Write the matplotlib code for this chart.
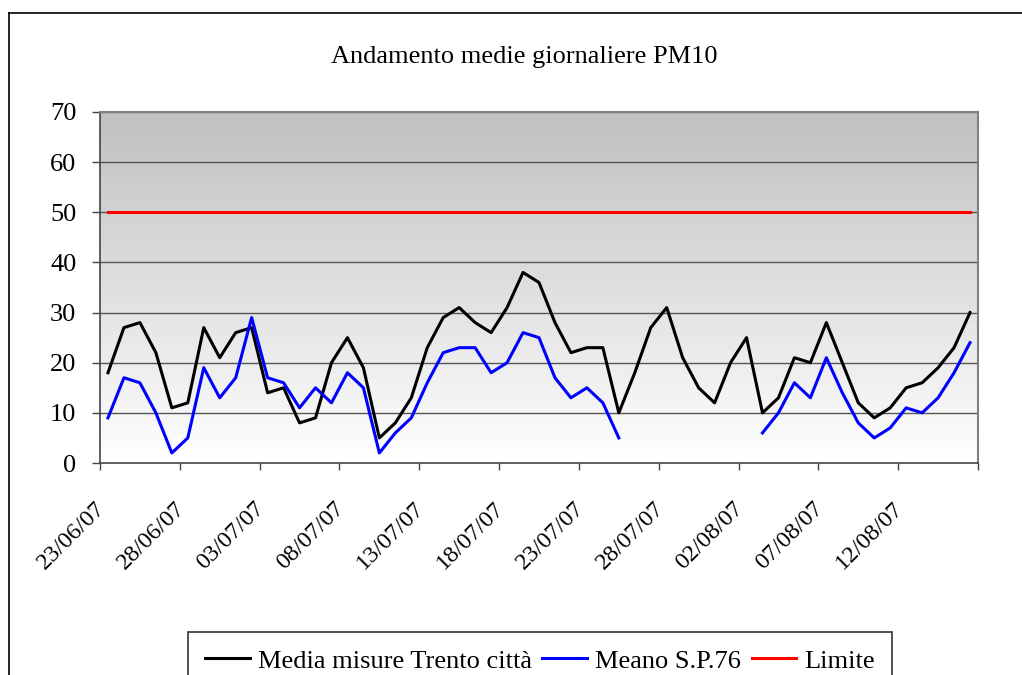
import numpy as np
import pandas as pd
import matplotlib
matplotlib.use("Agg")
import matplotlib.pyplot as plt
from matplotlib.lines import Line2D
from matplotlib.transforms import ScaledTranslation

plt.rcParams["font.family"] = ["Liberation Serif", "DejaVu Serif"]

# Data: daily PM10 means, 23/06/07 .. 16/08/07
dates = pd.date_range("2007-06-23", periods=55, freq="D")
trento = [18, 27, 28, 22, 11, 12, 27, 21, 26, 27,
          14, 15, 8, 9, 20, 25, 19, 5, 8, 13,
          23, 29, 31, 28, 26, 31, 38, 36, 28, 22,
          23, 23, 10, 18, 27, 31, 21, 15, 12, 20,
          25, 10, 13, 21, 20, 28, 20, 12, 9, 11,
          15, 16, 19, 23, 30]
meano = [9, 17, 16, 10, 2, 5, 19, 13, 17, 29,
         17, 16, 11, 15, 12, 18, 15, 2, 6, 9,
         16, 22, 23, 23, 18, 20, 26, 25, 17, 13,
         15, 12, 5, None, None, None, None, None, None, None,
         None, 6, 10, 16, 13, 21, 14, 8, 5, 7,
         11, 10, 13, 18, 24]
limite = [50] * 55

trento = np.array(trento, dtype=float)
meano = np.array([np.nan if v is None else v for v in meano], dtype=float)
limite = np.array(limite, dtype=float)

labels = [d.strftime("%d/%m/%y") for d in dates]
x = np.arange(len(dates)) + 0.5

fig = plt.figure(figsize=(10.22, 6.75), dpi=100)
ax = fig.add_axes([100 / 1022, 1 - 463 / 675, 878 / 1022, 351 / 675])

# gradient background of the plot area
grad = np.linspace(0, 1, 256).reshape(-1, 1)
cmap = matplotlib.colors.LinearSegmentedColormap.from_list("g", ["#ffffff", "#c0c0c0"])
ax.imshow(grad, extent=[0, 55, 0, 70], origin="lower", aspect="auto", cmap=cmap, zorder=0)

for y in range(10, 71, 10):
    ax.axhline(y, color="#555555", lw=1, zorder=1)

ax.plot(x, trento, color="black", lw=2.2, label="Media misure Trento città", zorder=3)
ax.plot(x, meano, color="#0000ff", lw=2.2, label="Meano S.P.76", zorder=3)
ax.plot(x, limite, color="#ff0000", lw=2.2, label="Limite", zorder=3)

ax.set_xlim(0, 55)
ax.set_ylim(0, 70)
ax.set_yticks(range(0, 71, 10))
ax.set_xticks(range(0, 56, 5))
ax.set_xticklabels([labels[i] if i < 55 else "" for i in range(0, 56, 5)])
ax.tick_params(axis="y", labelsize=19, length=6, width=1, color="#444444", pad=11)
ax.tick_params(axis="x", labelsize=17.5, length=5, width=1, color="#444444", pad=20)
shift = ScaledTranslation(-4 / 72, 0, fig.dpi_scale_trans)
for lab in ax.get_xticklabels():
    lab.set_rotation(45)
    lab.set_ha("right")
    lab.set_va("top")
    lab.set_rotation_mode("anchor")
    lab.set_transform(lab.get_transform() + shift)

for s in ["left", "bottom"]:
    ax.spines[s].set_color("#444444")
    ax.spines[s].set_linewidth(1.2)
for s in ["top", "right"]:
    ax.spines[s].set_color("#808080")
    ax.spines[s].set_linewidth(1.5)

fig.text(524 / 1022, 1 - 57 / 675, "Andamento medie giornaliere PM10",
         ha="center", va="center", fontsize=19)

leg = fig.legend(loc="upper center", bbox_to_anchor=(540 / 1022, 1 - 632 / 675),
                 ncol=3, fontsize=19, frameon=True, fancybox=False,
                 handlelength=1.7, handletextpad=0.3, columnspacing=0.4,
                 borderpad=0.65, borderaxespad=0)
leg.get_frame().set_edgecolor("black")
leg.get_frame().set_linewidth(1.2)

# chart area border (left and top visible)
fig.add_artist(Line2D([9 / 1022, 9 / 1022], [0, 1 - 13 / 675], color="black", lw=1.2))
fig.add_artist(Line2D([9 / 1022, 1], [1 - 13 / 675, 1 - 13 / 675], color="black", lw=1.2))

fig.savefig("out.png", dpi=100)
